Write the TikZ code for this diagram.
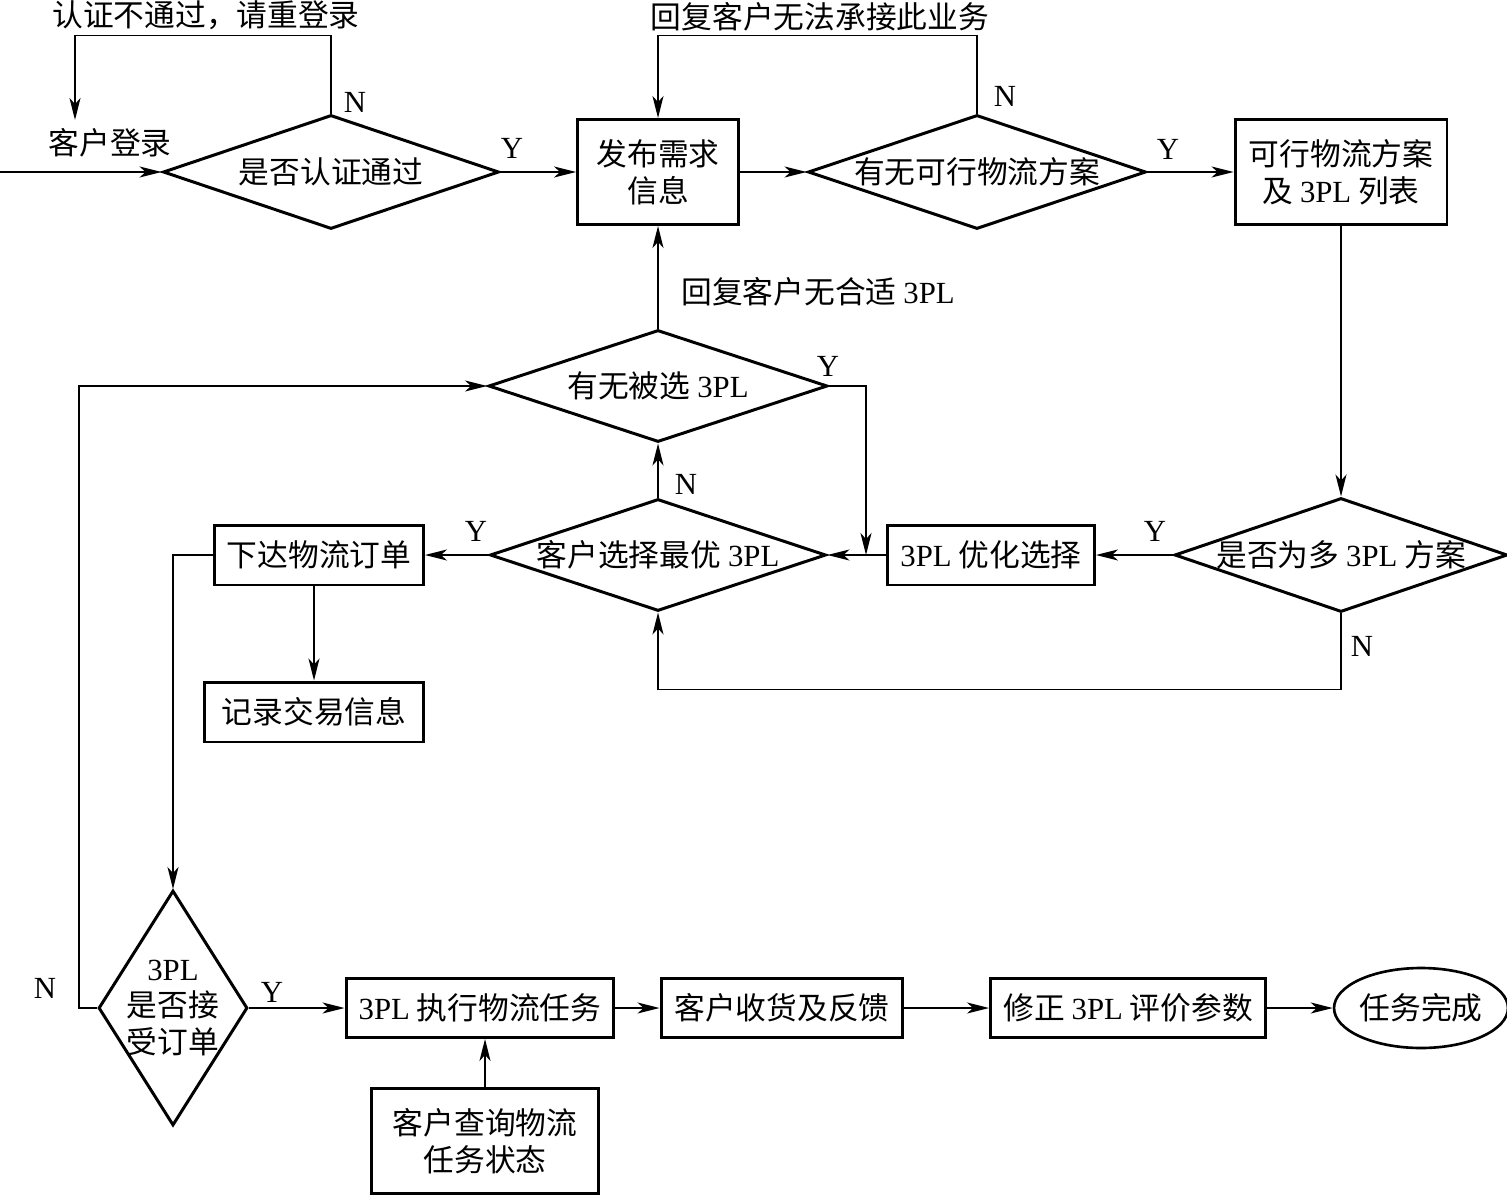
\documentclass[tikz,border=0pt]{standalone}
\usepackage{fontspec}
\setmainfont{Noto Sans CJK SC}
\newfontfamily\latinfont{Liberation Serif}
\newcommand{\TPL}{{\latinfont 3PL}}
\usetikzlibrary{shapes.geometric, arrows.meta, positioning}

\begin{document}
\begin{tikzpicture}[
    x=0.02cm, y=-0.02cm,
    every node/.style={font=\fontsize{17.5}{21}\selectfont},
    procbox/.style={rectangle, draw, line width=1.7pt, minimum height=1.2cm,
                    align=center, inner sep=2pt},
    decision/.style={diamond, draw, line width=1.7pt, aspect=3, inner xsep=-0.4cm,
                     inner ysep=-0.25cm, minimum width=6.72cm, minimum height=2.28cm,
                     align=center},
    terminal/.style={ellipse, draw, line width=1.5pt, minimum width=3.36cm,
                     minimum height=1.6cm, inner sep=0pt},
    note/.style={inner sep=0pt},
    yn/.style={inner sep=0pt, font=\fontsize{17.5}{21}\selectfont\latinfont},
    arrow/.style={-{Stealth[length=4.4mm, width=2.2mm, inset=1.2mm]}, line width=1.1pt}
]
\useasboundingbox (0,0) rectangle (1507,1196);

% Top row: login, publish, feasible plans
\node[decision] (auth) at (331,172) {是否认证通过};
\node[procbox, minimum width=3.22cm, minimum height=2.1cm] (pub) at (658,172) {发布需求\\信息};
\node[decision, minimum width=6.76cm] (plan) at (977,172) {有无可行物流方案};
\node[procbox, minimum width=4.24cm, minimum height=2.12cm] (list) at (1341,172)
    {可行物流方案\\及 \TPL{} 列表};

% Middle: 3PL selection
\node[decision, minimum width=6.66cm] (multi) at (1341,555) {是否为多 \TPL{} 方案};
\node[procbox, minimum width=4.14cm] (opt) at (991,555) {\TPL{} 优化选择};
\node[decision, minimum height=2.24cm] (best) at (658,555) {客户选择最优 \TPL};
\node[decision, minimum width=6.78cm, minimum height=2.24cm] (chosen) at (658,386) {有无被选 \TPL};
\node[procbox, minimum width=4.18cm] (order) at (319,555) {下达物流订单};
\node[procbox, minimum width=4.38cm] (record) at (314,712) {记录交易信息};

% Bottom row: execution
\node[decision, aspect=0.6, minimum width=2.98cm, minimum height=4.7cm] (accept) at (173,1008)
    {\TPL\\是否接\\受订单};
\node[procbox, minimum width=5.36cm, minimum height=1.18cm] (exec) at (480,1008) {\TPL{} 执行物流任务};
\node[procbox, minimum width=4.84cm, minimum height=1.18cm] (recv) at (782,1008) {客户收货及反馈};
\node[procbox, minimum width=5.5cm, minimum height=1.18cm] (fix) at (1128,1008) {修正 \TPL{} 评价参数};
\node[terminal] (done) at (1421,1008) {任务完成};
\node[procbox, minimum width=4.56cm, minimum height=2.1cm] (query) at (485,1141)
    {客户查询物流\\任务状态};

% Free ends
\coordinate (start) at (0,172);
\coordinate (relogin) at (75,120);
\coordinate (join) at (866,555);

% Texts on the lines
\node[note] (loginlbl) at (110,143) {客户登录};
\node[note] (failtxt) at (206,15) {认证不通过，请重登录};
\node[note] (rejecttxt) at (820,17) {回复客户无法承接此业务};
\node[note] (nonetxt) at (818,292) {回复客户无合适 \TPL};
\node[yn] (authN) at (355,102) {N};
\node[yn] (authY) at (512,148) {Y};
\node[yn] (planN) at (1005,96) {N};
\node[yn] (planY) at (1168,149) {Y};
\node[yn] (chosenY) at (828,366) {Y};
\node[yn] (bestN) at (686,484) {N};
\node[yn] (bestY) at (476,531) {Y};
\node[yn] (multiY) at (1155,531) {Y};
\node[yn] (multiN) at (1362,646) {N};
\node[yn] (acceptN) at (45,988) {N};
\node[yn] (acceptY) at (272,992) {Y};

% Arrows
\draw[arrow] (start) -- (auth.west);
\draw[arrow] (auth.north) -- ++(0,-78) -| (relogin);
\draw[arrow] (auth.east) -- (pub.west);
\draw[arrow] (pub.east) -- (plan.west);
\draw[arrow] (plan.north) -- ++(0,-78) -| (pub.north);
\draw[arrow] (plan.east) -- (list.west);
\draw[arrow] (list.south) -- (multi.north);
\draw[arrow] (multi.west) -- (opt.east);
\draw[arrow] (opt.west) -- (best.east);
\draw[arrow] (multi.south) -- ++(0,76) -| (best.south);
\draw[arrow] (best.north) -- (chosen.south);
\draw[arrow] (chosen.north) -- (pub.south);
\draw[arrow] (chosen.east) -| (join);
\draw[arrow] (best.west) -- (order.east);
\draw[arrow] (record.north |- order.south) -- (record.north);
\draw[arrow] (order.west) -| (accept.north);
\draw[arrow] (accept.west) -- ++(-18,0) |- (chosen.west);
\draw[arrow] (accept.east) -- (exec.west);
\draw[arrow] (exec.east) -- (recv.west);
\draw[arrow] (recv.east) -- (fix.west);
\draw[arrow] (fix.east) -- (done.west);
\draw[arrow] (query.north) -- (query.north |- exec.south);

\end{tikzpicture}
\end{document}
